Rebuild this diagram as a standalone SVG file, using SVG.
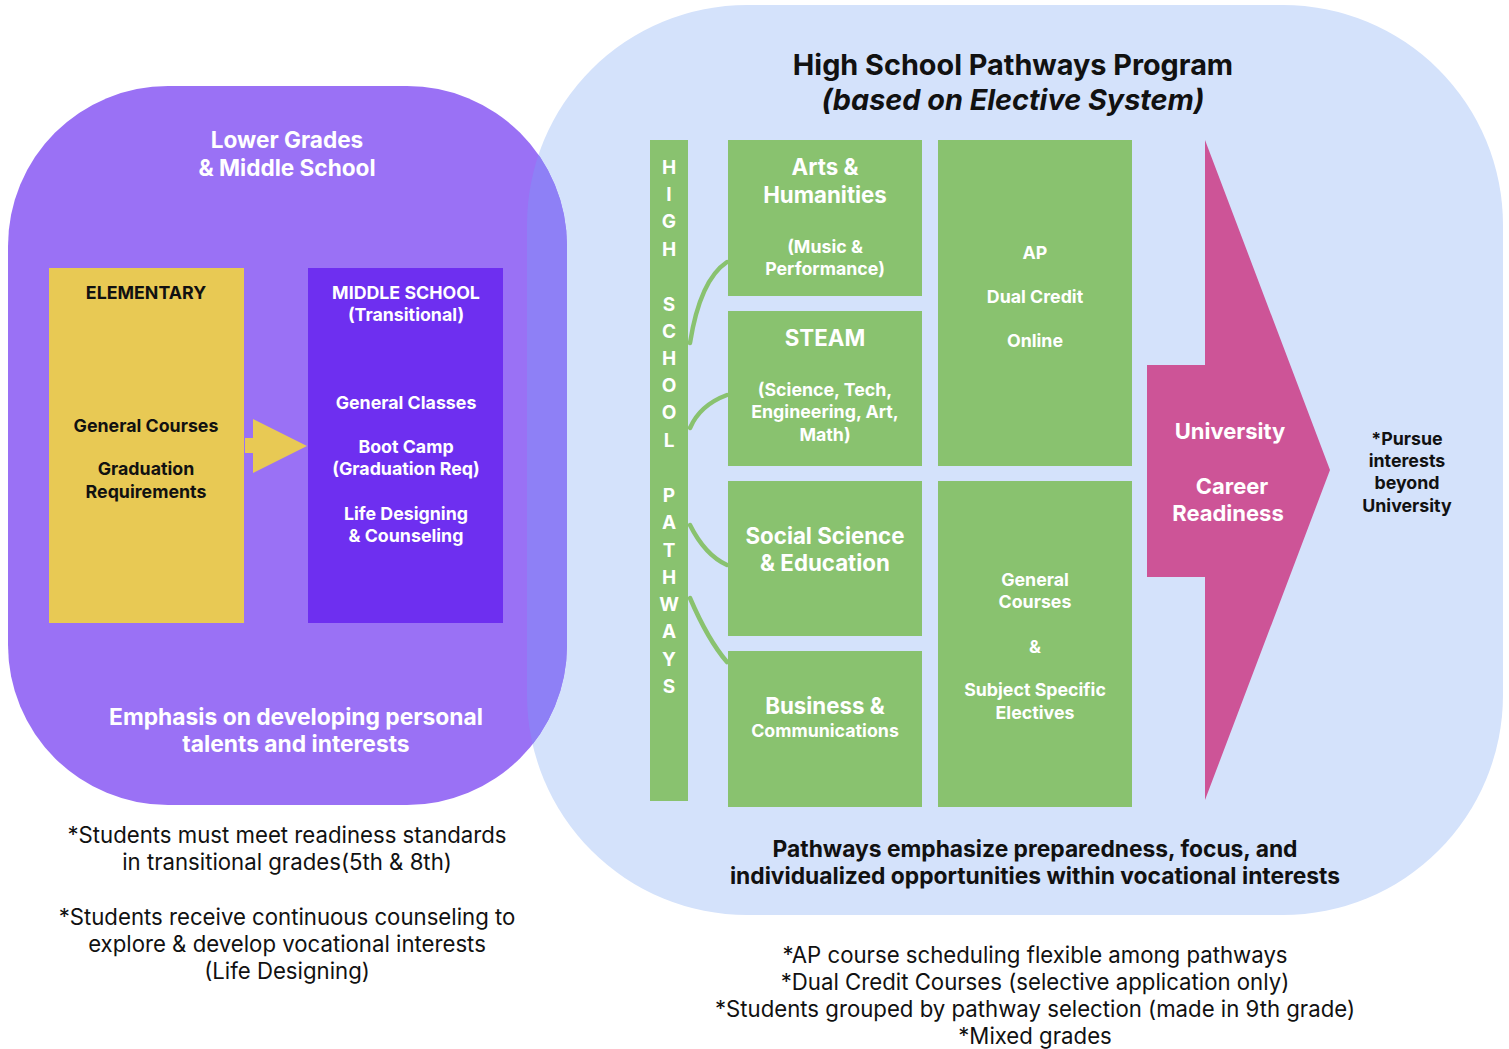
<svg xmlns="http://www.w3.org/2000/svg" width="1509" height="1049" viewBox="0 0 1509 1049">
<style>
text{font-family:Inter,"Liberation Sans",Arial,sans-serif;text-anchor:middle}
.w{fill:#ffffff;font-weight:700}
.k{fill:#111111;font-weight:700}
.n{fill:#111111;font-weight:400;font-size:22.2px}
.h1{font-size:22.3px}
.h2{font-size:17.8px}
.vl{fill:#ffffff;font-weight:700;font-size:19px}
.g{fill:#89C26F}
.con{fill:none;stroke:#89C26F;stroke-width:4.5;stroke-linecap:round}
</style>
<defs>
<clipPath id="blueClip"><rect x="527" y="5" width="976" height="910" rx="220" ry="220"/></clipPath>
</defs>
<rect width="1509" height="1049" fill="#ffffff"/>

<g id="hs-program">
<rect x="527" y="5" width="976" height="910" rx="220" ry="220" fill="#D4E2FB"/>
<text x="1013" y="75" class="k" style="font-size:28.8px">High School Pathways Program</text>
<text x="1013" y="110" class="k" style="font-size:28.8px;font-style:italic">(based on Elective System)</text>
<text x="1035" y="857" class="k" style="font-size:22.8px">Pathways emphasize preparedness, focus, and</text>
<text x="1035" y="884" class="k" style="font-size:22.8px">individualized opportunities within vocational interests</text>
</g>

<g id="lower-grades">
<rect x="8" y="86" width="559" height="719" rx="160" ry="160" fill="#9A71F5"/>
<rect x="8" y="86" width="559" height="719" rx="160" ry="160" fill="#8E80F6" clip-path="url(#blueClip)"/>
<text x="287" y="148" class="w" style="font-size:22.6px">Lower Grades</text>
<text x="287" y="176" class="w" style="font-size:22.6px">&amp; Middle School</text>
<text x="296" y="725" class="w" style="font-size:22.8px">Emphasis on developing personal</text>
<text x="296" y="752" class="w" style="font-size:22.8px">talents and interests</text>
</g>

<g id="elementary">
<rect x="49" y="268" width="195" height="355" fill="#E8C954"/>
<text x="146" y="299" class="k h2">ELEMENTARY</text>
<text x="146" y="432" class="k h2">General Courses</text>
<text x="146" y="475" class="k h2">Graduation</text>
<text x="146" y="498" class="k h2">Requirements</text>
</g>

<g id="middle-school">
<rect x="308" y="268" width="195" height="355" fill="#6E2FF0"/>
<text x="406" y="299" class="w h2">MIDDLE SCHOOL</text>
<text x="406" y="321" class="w h2">(Transitional)</text>
<text x="406" y="409" class="w h2">General Classes</text>
<text x="406" y="453" class="w h2">Boot Camp</text>
<text x="406" y="475" class="w h2">(Graduation Req)</text>
<text x="406" y="520" class="w h2">Life Designing</text>
<text x="406" y="542" class="w h2">&amp; Counseling</text>
</g>

<g id="lower-notes">
<text x="287" y="843" class="n">*Students must meet readiness standards</text>
<text x="287" y="870" class="n">in transitional grades(5th &amp; 8th)</text>
<text x="287" y="925" class="n">*Students receive continuous counseling to</text>
<text x="287" y="952" class="n">explore &amp; develop vocational interests</text>
<text x="287" y="979" class="n">(Life Designing)</text>
</g>

<g id="pathways-bar">
<rect x="650" y="140" width="38" height="661" class="g"/>
<text x="669" y="174" class="vl">H</text>
<text x="669" y="201" class="vl">I</text>
<text x="669" y="228" class="vl">G</text>
<text x="669" y="256" class="vl">H</text>
<text x="669" y="311" class="vl">S</text>
<text x="669" y="338" class="vl">C</text>
<text x="669" y="365" class="vl">H</text>
<text x="669" y="392" class="vl">O</text>
<text x="669" y="419" class="vl">O</text>
<text x="669" y="447" class="vl">L</text>
<text x="669" y="502" class="vl">P</text>
<text x="669" y="529" class="vl">A</text>
<text x="669" y="557" class="vl">T</text>
<text x="669" y="584" class="vl">H</text>
<text x="669" y="611" class="vl">W</text>
<text x="669" y="638" class="vl">A</text>
<text x="669" y="666" class="vl">Y</text>
<text x="669" y="693" class="vl">S</text>
</g>

<g id="arts">
<rect x="728" y="140" width="194" height="156" class="g"/>
<text x="825" y="175" class="w h1">Arts &amp;</text>
<text x="825" y="203" class="w h1">Humanities</text>
<text x="825" y="253" class="w h2">(Music &amp;</text>
<text x="825" y="275" class="w h2">Performance)</text>
</g>

<g id="steam">
<rect x="728" y="311" width="194" height="155" class="g"/>
<text x="825" y="346" class="w h1">STEAM</text>
<text x="825" y="396" class="w h2">(Science, Tech,</text>
<text x="825" y="418" class="w h2">Engineering, Art,</text>
<text x="825" y="441" class="w h2">Math)</text>
</g>

<g id="social">
<rect x="728" y="481" width="194" height="155" class="g"/>
<text x="825" y="544" class="w h1">Social Science</text>
<text x="825" y="571" class="w h1">&amp; Education</text>
</g>

<g id="business">
<rect x="728" y="651" width="194" height="156" class="g"/>
<text x="825" y="714" class="w h1">Business &amp;</text>
<text x="825" y="737" class="w h2">Communications</text>
</g>

<g id="ap">
<rect x="938" y="140" width="194" height="326" class="g"/>
<text x="1035" y="259" class="w h2">AP</text>
<text x="1035" y="303" class="w h2">Dual Credit</text>
<text x="1035" y="347" class="w h2">Online</text>
</g>

<g id="general">
<rect x="938" y="481" width="194" height="326" class="g"/>
<text x="1035" y="586" class="w h2">General</text>
<text x="1035" y="608" class="w h2">Courses</text>
<text x="1035" y="653" class="w h2">&amp;</text>
<text x="1035" y="696" class="w h2">Subject Specific</text>
<text x="1035" y="719" class="w h2">Electives</text>
</g>

<g id="readiness">
<polygon points="1205,140 1330,470 1205,800 1205,577 1147,577 1147,365 1205,365" fill="#CD5497"/>
<text x="1230" y="439" class="w" style="font-size:22px">University</text>
<text x="1232" y="494" class="w" style="font-size:22px">Career</text>
<text x="1228" y="521" class="w" style="font-size:22px">Readiness</text>
</g>

<g id="beyond">
<text x="1407" y="445" class="k h2">*Pursue</text>
<text x="1407" y="467" class="k h2">interests</text>
<text x="1407" y="489" class="k h2">beyond</text>
<text x="1407" y="512" class="k h2">University</text>
</g>

<g id="hs-notes">
<text x="1035" y="963" class="n">*AP course scheduling flexible among pathways</text>
<text x="1035" y="990" class="n">*Dual Credit Courses (selective application only)</text>
<text x="1035" y="1017" class="n">*Students grouped by pathway selection (made in 9th grade)</text>
<text x="1035" y="1044" class="n">*Mixed grades</text>
</g>

<g id="connectors">
<polygon points="245,438 253,438 253,419 307,446 253,473 253,453 245,453" fill="#E8C954"/>
<path class="con" d="M690,343 Q700,280 727,262"/>
<path class="con" d="M690,428 Q700,405 727,395"/>
<path class="con" d="M690,525 Q705,555 727,565"/>
<path class="con" d="M690,598 Q708,640 727,662"/>
</g>
</svg>
